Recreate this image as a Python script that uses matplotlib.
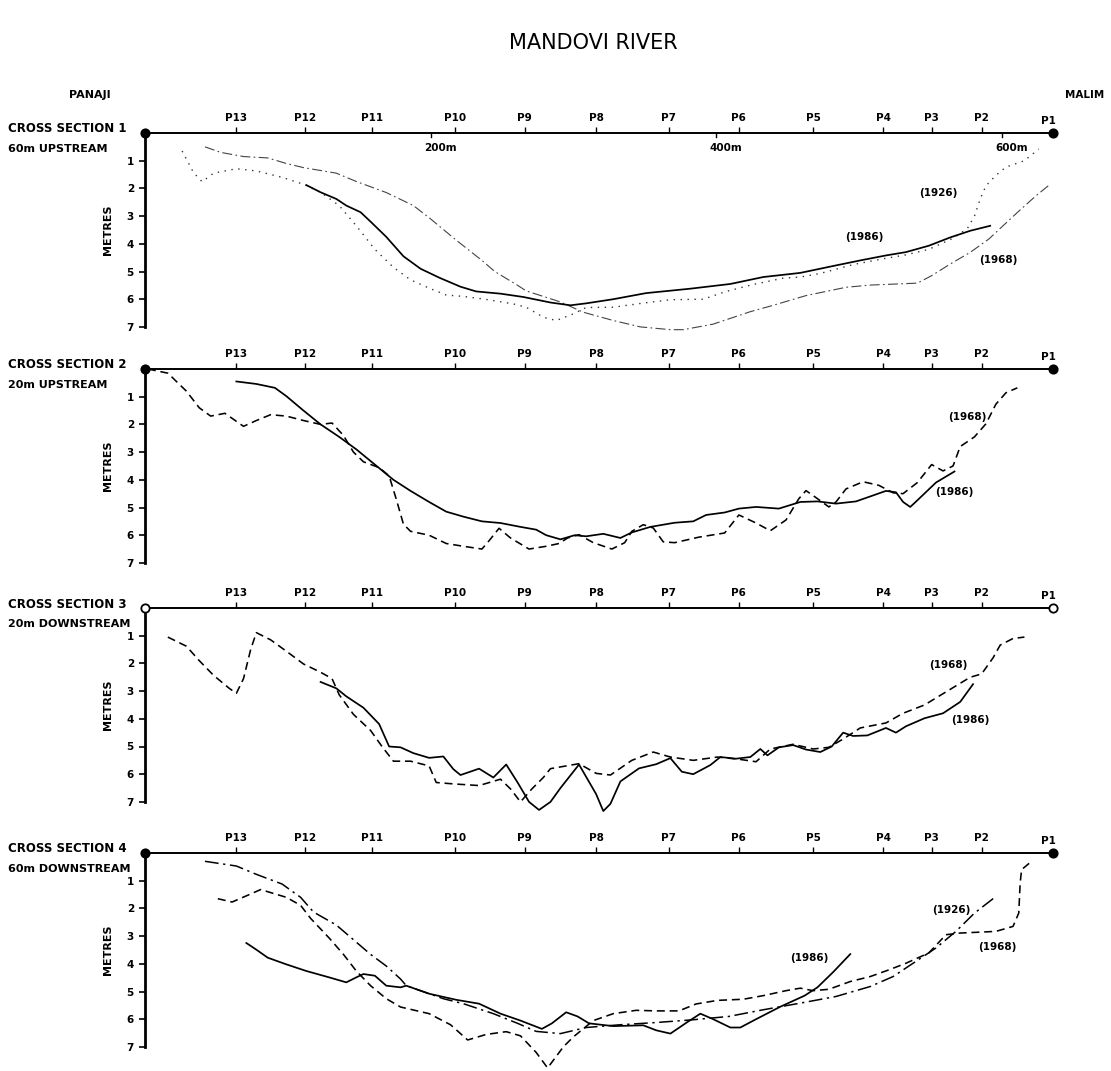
import matplotlib
matplotlib.use("Agg")
import matplotlib.pyplot as plt

# ---------------------------------------------------------------------------
# data: distance across the river (m, from Panaji bank) and depth (m)
# ---------------------------------------------------------------------------
profile_names = ["P13", "P12", "P11", "P10", "P9", "P8", "P7",
                 "P6", "P5", "P4", "P3", "P2", "P1"]
profile_pos = [64, 112, 159, 217, 266, 316, 367, 416, 468, 517, 551, 586, 633]
dist_marks = [200, 400, 600]
river_width = 636
depth_ticks = [1, 2, 3, 4, 5, 6, 7]

# cross section 1 -- 60 m upstream
s1_1926_x = [26, 34, 40, 48, 64, 78, 96, 111, 123, 136, 148, 161, 174, 186, 199,
             211, 223, 238, 258, 267, 279, 288, 300, 309, 328, 349, 368, 391, 407,
             426, 447, 459, 473, 496, 516, 533, 549, 566, 576, 581, 585, 589, 596,
             603, 616, 626]
s1_1926_d = [0.65, 1.43, 1.76, 1.45, 1.29, 1.37, 1.6, 1.85, 2.14, 2.62, 3.35, 4.2,
             4.85, 5.3, 5.6, 5.85, 5.9, 6.0, 6.17, 6.29, 6.65, 6.77, 6.53, 6.3, 6.29,
             6.14, 6.02, 6.0, 5.72, 5.47, 5.24, 5.2, 5.07, 4.75, 4.55, 4.4, 4.2, 3.8,
             3.45, 3.0, 2.38, 1.91, 1.53, 1.23, 1.0, 0.58]
s1_1968_x = [42, 53, 69, 86, 99, 111, 134, 148, 169, 188, 200, 211, 218, 236, 245,
             261, 267, 291, 307, 328, 347, 368, 377, 398, 424, 438, 463, 491, 508,
             541, 551, 564, 578, 591, 611, 624, 634]
s1_1968_d = [0.5, 0.7, 0.85, 0.9, 1.1, 1.25, 1.45, 1.75, 2.15, 2.62, 3.1, 3.57, 3.87,
             4.6, 5.0, 5.5, 5.7, 6.1, 6.47, 6.77, 7.0, 7.1, 7.1, 6.9, 6.45, 6.25,
             5.87, 5.57, 5.49, 5.42, 5.15, 4.73, 4.31, 3.83, 2.87, 2.27, 1.85]
s1_1986_x = [113, 123, 134, 141, 151, 158, 169, 181, 193, 206, 221, 232, 249, 265,
             284, 298, 309, 328, 351, 382, 410, 433, 459, 484, 501, 519, 533, 549,
             564, 578, 592]
s1_1986_d = [1.88, 2.14, 2.38, 2.62, 2.86, 3.2, 3.75, 4.45, 4.9, 5.22, 5.55, 5.72,
             5.8, 5.92, 6.12, 6.22, 6.15, 6.0, 5.78, 5.62, 5.45, 5.2, 5.05, 4.78,
             4.6, 4.42, 4.3, 4.07, 3.77, 3.53, 3.35]

# cross section 2 -- 20 m upstream
s2_1968_x = [2, 16, 29, 38, 46, 56, 69, 78, 88, 99, 111, 123, 131, 139, 146, 153,
             164, 171, 176, 181, 186, 199, 211, 223, 236, 241, 248, 256, 269, 281,
             290, 296, 304, 314, 327, 336, 341, 349, 356, 363, 371, 388, 406, 416,
             428, 438, 449, 458, 463, 471, 479, 484, 491, 503, 514, 524, 531, 541,
             551, 559, 566, 571, 581, 589, 596, 603, 611]
s2_1968_d = [0, 0.15, 0.8, 1.4, 1.7, 1.6, 2.07, 1.86, 1.65, 1.7, 1.86, 2.0, 1.95,
             2.4, 3.0, 3.35, 3.56, 3.86, 4.7, 5.6, 5.86, 6.0, 6.3, 6.4, 6.5, 6.2,
             5.75, 6.1, 6.5, 6.4, 6.3, 6.1, 5.98, 6.27, 6.5, 6.27, 5.86, 5.62, 5.74,
             6.24, 6.27, 6.07, 5.92, 5.27, 5.56, 5.84, 5.45, 4.68, 4.39, 4.68, 4.98,
             4.8, 4.33, 4.07, 4.2, 4.47, 4.5, 4.1, 3.45, 3.68, 3.5, 2.8, 2.45, 1.98,
             1.27, 0.86, 0.68]
s2_1986_x = [64, 78, 91, 99, 111, 123, 136, 148, 161, 174, 186, 199, 211, 223, 236,
             249, 263, 274, 281, 291, 301, 309, 321, 333, 341, 354, 371, 384, 393,
             406, 416, 428, 444, 459, 471, 484, 498, 508, 519, 526, 531, 536, 541,
             554, 567]
s2_1986_d = [0.45, 0.54, 0.68, 0.98, 1.5, 2.0, 2.45, 2.9, 3.45, 4.0, 4.4, 4.8, 5.15,
             5.33, 5.5, 5.56, 5.7, 5.8, 6.0, 6.15, 6.0, 6.04, 5.95, 6.1, 5.9, 5.7,
             5.55, 5.5, 5.27, 5.18, 5.04, 4.98, 5.04, 4.8, 4.78, 4.86, 4.78, 4.6,
             4.4, 4.45, 4.8, 4.98, 4.74, 4.1, 3.7]

# cross section 3 -- 20 m downstream
s3_1968_x = [16, 29, 38, 48, 59, 64, 69, 74, 78, 88, 99, 111, 123, 131, 136, 146,
             158, 166, 174, 186, 199, 204, 216, 234, 249, 256, 263, 271, 279, 284,
             304, 316, 326, 341, 356, 368, 384, 401, 416, 428, 438, 454, 468, 479,
             489, 501, 519, 531, 546, 561, 578, 586, 594, 599, 608, 616]
s3_1968_d = [1.05, 1.38, 1.9, 2.43, 2.9, 3.08, 2.55, 1.5, 0.89, 1.15, 1.56, 2.02,
             2.32, 2.55, 3.13, 3.84, 4.42, 5.0, 5.53, 5.53, 5.7, 6.3, 6.35, 6.41,
             6.18, 6.53, 7.0, 6.53, 6.12, 5.8, 5.62, 5.97, 6.03, 5.5, 5.2, 5.38, 5.5,
             5.38, 5.46, 5.55, 5.09, 4.92, 5.09, 5.03, 4.73, 4.33, 4.15, 3.8, 3.5,
             3.03, 2.5, 2.38, 1.8, 1.34, 1.1, 1.05]
s3_1986_x = [123, 134, 141, 153, 164, 171, 179, 188, 199, 209, 216, 221, 234, 244,
             253, 261, 269, 276, 284, 291, 304, 316, 321, 326, 333, 346, 358, 368,
             376, 384, 396, 403, 414, 424, 431, 436, 444, 454, 463, 473, 481, 489,
             496, 506, 519, 526, 533, 546, 559, 571, 580]
s3_1986_d = [2.67, 2.9, 3.19, 3.6, 4.19, 5.0, 5.03, 5.24, 5.41, 5.36, 5.82, 6.03,
             5.8, 6.12, 5.65, 6.3, 7.0, 7.29, 7.0, 6.5, 5.65, 6.72, 7.33, 7.07, 6.26,
             5.79, 5.64, 5.42, 5.91, 6.0, 5.67, 5.38, 5.44, 5.38, 5.09, 5.32, 5.03,
             4.95, 5.11, 5.2, 5.0, 4.5, 4.62, 4.6, 4.33, 4.5, 4.27, 3.98, 3.8, 3.39,
             2.75]

# cross section 4 -- 60 m downstream
s4_1926_x = [42, 64, 78, 96, 109, 118, 134, 146, 158, 169, 179, 183, 209, 223, 244,
             261, 274, 291, 309, 333, 358, 384, 409, 433, 459, 484, 508, 524, 538,
             554, 568, 581, 596]
s4_1926_d = [0.3, 0.47, 0.77, 1.12, 1.6, 2.13, 2.6, 3.13, 3.66, 4.08, 4.55, 4.79,
             5.26, 5.44, 5.8, 6.15, 6.44, 6.52, 6.3, 6.2, 6.12, 6.02, 5.9, 5.66,
             5.42, 5.18, 4.82, 4.46, 3.98, 3.43, 2.83, 2.17, 1.57]
s4_1968_x = [51, 61, 74, 81, 99, 109, 116, 129, 139, 148, 158, 169, 179, 199, 214,
             226, 239, 253, 263, 274, 282, 293, 300, 314, 328, 344, 358, 374, 386,
             401, 419, 433, 449, 459, 468, 479, 494, 508, 521, 533, 549, 561, 571,
             596, 608, 612, 613, 614, 621]
s4_1968_d = [1.65, 1.77, 1.48, 1.32, 1.6, 1.89, 2.36, 3.07, 3.66, 4.26, 4.79, 5.26,
             5.56, 5.8, 6.2, 6.75, 6.55, 6.45, 6.6, 7.2, 7.76, 7.0, 6.64, 6.05, 5.8,
             5.68, 5.7, 5.7, 5.45, 5.32, 5.28, 5.15, 4.97, 4.88, 4.97, 4.92, 4.64,
             4.46, 4.22, 3.98, 3.61, 2.95, 2.89, 2.83, 2.65, 2.17, 1.08, 0.6, 0.3]
s4_1986_x = [71, 78, 86, 99, 113, 129, 141, 148, 153, 161, 169, 179, 183, 199, 218,
             234, 249, 263, 278, 285, 295, 303, 311, 328, 349, 358, 368, 380, 389,
             398, 410, 417, 428, 445, 462, 471, 482, 494]
s4_1986_d = [3.25, 3.49, 3.78, 4.02, 4.26, 4.49, 4.67, 4.49, 4.37, 4.43, 4.79, 4.85,
             4.79, 5.08, 5.3, 5.44, 5.8, 6.05, 6.35, 6.15, 5.75, 5.9, 6.15, 6.25,
             6.22, 6.4, 6.52, 6.1, 5.8, 6.0, 6.3, 6.3, 6.0, 5.55, 5.15, 4.85, 4.3,
             3.65]

# ---------------------------------------------------------------------------
# styles
# ---------------------------------------------------------------------------
SOLID = dict(color="black", lw=1.25, ls="-")
DASHED = dict(color="black", lw=1.15, ls=(0, (5, 3)))
DOTTED = dict(color="#333333", lw=1.0, ls=(0, (1, 4)))
DASHDOT_LIGHT = dict(color="#444444", lw=0.8, ls=(0, (9, 3, 1.5, 3)))
DASHDOT = dict(color="black", lw=1.1, ls=(0, (9, 3, 1.5, 3)))

sections = [
    dict(top=133, name="CROSS SECTION 1", sub="60m UPSTREAM", open_ends=False,
         lines=[(s1_1926_x, s1_1926_d, DOTTED),
                (s1_1968_x, s1_1968_d, DASHDOT_LIGHT),
                (s1_1986_x, s1_1986_d, SOLID)],
         labels=[("(1926)", 556, 2.15), ("(1986)", 504, 3.75), ("(1968)", 598, 4.6)]),
    dict(top=369, name="CROSS SECTION 2", sub="20m UPSTREAM", open_ends=False,
         lines=[(s2_1968_x, s2_1968_d, DASHED),
                (s2_1986_x, s2_1986_d, SOLID)],
         labels=[("(1968)", 576, 1.75), ("(1986)", 567, 4.45)]),
    dict(top=608, name="CROSS SECTION 3", sub="20m DOWNSTREAM", open_ends=True,
         lines=[(s3_1968_x, s3_1968_d, DASHED),
                (s3_1986_x, s3_1986_d, SOLID)],
         labels=[("(1968)", 563, 2.05), ("(1986)", 578, 4.05)]),
    dict(top=853, name="CROSS SECTION 4", sub="60m DOWNSTREAM", open_ends=False,
         lines=[(s4_1926_x, s4_1926_d, DASHDOT),
                (s4_1968_x, s4_1968_d, DASHED),
                (s4_1986_x, s4_1986_d, SOLID)],
         labels=[("(1986)", 465, 3.8), ("(1926)", 565, 2.05), ("(1968)", 597, 3.4)]),
]

W, H = 1111, 1071
PX_PER_M = 27.7
DEPTH_MAX = 7.8
fig = plt.figure(figsize=(W / 100, H / 100), dpi=100)

fig.text(593 / W, 1 - 43 / H, "MANDOVI RIVER", ha="center", va="center",
         fontsize=15)
fig.text(90 / W, 1 - 95 / H, "PANAJI", ha="center", va="center",
         fontsize=8, fontweight="bold")
fig.text(1085 / W, 1 - 95 / H, "MALIM", ha="center", va="center",
         fontsize=7.5, fontweight="bold")

bold = dict(fontsize=7.5, fontweight="bold")

for sec in sections:
    top = sec["top"]
    h = DEPTH_MAX * PX_PER_M
    ax = fig.add_axes([145 / W, 1 - (top + h) / H, 908 / W, h / H])
    ax.set_xlim(0, river_width)
    ax.set_ylim(DEPTH_MAX, 0)
    ax.patch.set_alpha(0)

    for s in ["right", "bottom"]:
        ax.spines[s].set_visible(False)
    ax.spines["left"].set_bounds(0, 7)
    ax.spines["left"].set_linewidth(2.0)
    ax.spines["top"].set_linewidth(1.4)

    ax.xaxis.tick_top()
    ax.set_xticks(profile_pos[:-1])
    ax.set_xticklabels(profile_names[:-1], **bold)
    ax.tick_params(axis="x", direction="out", length=4, width=1.0, pad=3)
    # P1 sits at the far bank, no tick mark
    ax.text(profile_pos[-1], -0.27, profile_names[-1], ha="center", va="bottom",
            clip_on=False, **bold)

    ax.set_yticks(depth_ticks)
    ax.set_yticklabels([str(t) for t in depth_ticks], **bold)
    ax.tick_params(axis="y", direction="out", length=4, width=1.2, pad=4)
    ax.set_ylabel("METRES", fontsize=8, fontweight="bold")
    ax.yaxis.set_label_coords(-0.035, 0.5 * 7 / DEPTH_MAX + (1 - 7 / DEPTH_MAX))

    face = "white" if sec["open_ends"] else "black"
    ax.plot([0, river_width], [0, 0], "o", ms=6, mfc=face, mec="black",
            mew=1.3, clip_on=False, zorder=5)

    for xs, ds, style in sec["lines"]:
        ax.plot(xs, ds, clip_on=False, **style)

    for txt, xm, dm in sec["labels"]:
        ax.text(xm, dm, txt, ha="center", va="center", fontsize=7.5,
                fontweight="bold")

    fig.text(8 / W, 1 - (top - 4) / H, sec["name"], ha="left", va="center",
             fontsize=8.5, fontweight="bold")
    fig.text(8 / W, 1 - (top + 16) / H, sec["sub"], ha="left", va="center",
             fontsize=8, fontweight="bold")

    if sec["name"].endswith("1"):
        for m in dist_marks:
            ax.plot([m, m], [0, 0.15], color="black", lw=1.0)
            ax.text(m + 7, 0.55, f"{m}m", ha="center", va="center",
                    fontsize=7.5, fontweight="bold")

fig.savefig("out.png", dpi=100)
